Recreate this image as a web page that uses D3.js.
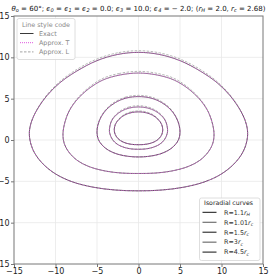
<!DOCTYPE html>
<html>
<head>
<meta charset="utf-8">
<script src="https://cdn.jsdelivr.net/npm/d3@7"></script>
<style>
  body { margin: 0; background: #fff; }
  svg { display: block; font-family: "DejaVu Sans", sans-serif; }
</style>
</head>
<body>
<div id="chart"></div>
<script>
// axis ticks
var xTicks = [-15, -10, -5, 0, 5, 10, 15];
var yTicks = [-15, -10, -5, 0, 5, 10, 15];

// isoradial curves, points (closed, counter-clockwise from top)
var curveNames = ["R=1.1r_H", "R=1.01r_c", "R=1.5r_c", "R=3r_c", "R=4.5r_c"];

var xR11H = [0, -0.9, -1.7, -2.35, -2.78, -2.92, -2.82, -2.45, -1.85, -1.0, 0, 1.0, 1.85, 2.45, 2.82, 2.92, 2.78, 2.35, 1.7, 0.9];
var yR11H = [3.4, 3.3, 3.0, 2.5, 1.9, 1.25, 0.7, 0.15, -0.25, -0.5, -0.57, -0.5, -0.25, 0.15, 0.7, 1.25, 1.9, 2.5, 3.0, 3.3];
var yR11HL = [3.52, 3.41, 3.09, 2.56, 1.93, 1.25, 0.7, 0.15, -0.25, -0.5, -0.57, -0.5, -0.25, 0.15, 0.7, 1.25, 1.93, 2.56, 3.09, 3.41];

var xR101c = [0, -1.1, -2.0, -2.75, -3.25, -3.5, -3.45, -3.1, -2.5, -1.7, -0.85, 0, 0.85, 1.7, 2.5, 3.1, 3.45, 3.5, 3.25, 2.75, 2.0, 1.1];
var yR101c = [4.0, 3.87, 3.52, 2.97, 2.3, 1.3, 0.75, 0.0, -0.55, -0.9, -1.08, -1.12, -1.08, -0.9, -0.55, 0.0, 0.75, 1.3, 2.3, 2.97, 3.52, 3.87];
var yR101cL = [4.15, 4.01, 3.64, 3.05, 2.35, 1.3, 0.75, 0.0, -0.55, -0.9, -1.08, -1.12, -1.08, -0.9, -0.55, 0.0, 0.75, 1.3, 2.35, 3.05, 3.64, 4.01];

var xR15c = [0, -1.5, -2.8, -3.8, -4.5, -4.9, -5.0, -4.85, -4.4, -3.6, -2.5, -1.2, 0, 1.2, 2.5, 3.6, 4.4, 4.85, 5.0, 4.9, 4.5, 3.8, 2.8, 1.5];
var yR15c = [5.25, 5.07, 4.52, 3.75, 2.8, 1.78, 0.9, 0.1, -0.6, -1.25, -1.72, -1.98, -2.05, -1.98, -1.72, -1.25, -0.6, 0.1, 0.9, 1.78, 2.8, 3.75, 4.52, 5.07];
var yR15cL = [5.4, 5.21, 4.64, 3.85, 2.86, 1.8, 0.9, 0.1, -0.6, -1.25, -1.72, -1.98, -2.05, -1.98, -1.72, -1.25, -0.6, 0.1, 0.9, 1.8, 2.86, 3.85, 4.64, 5.21];

var xR3c = [0, -2.3, -4.3, -6.0, -7.3, -8.3, -8.85, -9.1, -8.95, -8.4, -7.4, -6, -4, -2, 0, 2, 4, 6, 7.4, 8.4, 8.95, 9.1, 8.85, 8.3, 7.3, 6.0, 4.3, 2.3];
var yR3c = [8.1, 7.85, 7.25, 6.2, 5.0, 3.6, 2.2, 0.75, -0.4, -1.45, -2.45, -3.2, -3.75, -4.0, -4.05, -4.0, -3.75, -3.2, -2.45, -1.45, -0.4, 0.75, 2.2, 3.6, 5.0, 6.2, 7.25, 7.85];
var yR3cL = [8.3, 8.05, 7.45, 6.35, 5.1, 3.65, 2.22, 0.75, -0.4, -1.45, -2.45, -3.2, -3.75, -4.0, -4.05, -4.0, -3.75, -3.2, -2.45, -1.45, -0.4, 0.75, 2.22, 3.65, 5.1, 6.35, 7.45, 8.05];

var xR45c = [0, -2.5, -5, -7.5, -9.5, -11, -12.2, -12.9, -13.15, -13.0, -12.5, -11.5, -10, -8, -5.5, -2.8, 0, 2.8, 5.5, 8, 10, 11.5, 12.5, 13.0, 13.15, 12.9, 12.2, 11, 9.5, 7.5, 5, 2.5];
var yR45c = [10.6, 10.35, 9.6, 8.3, 6.9, 5.4, 3.7, 2.2, 0.9, -0.35, -1.6, -2.9, -4.1, -5.05, -5.7, -6.05, -6.15, -6.05, -5.7, -5.05, -4.1, -2.9, -1.6, -0.35, 0.9, 2.2, 3.7, 5.4, 6.9, 8.3, 9.6, 10.35];
var yR45cL = [10.8, 10.55, 9.8, 8.5, 7.05, 5.5, 3.75, 2.22, 0.9, -0.35, -1.6, -2.9, -4.1, -5.05, -5.7, -6.05, -6.15, -6.05, -5.7, -5.05, -4.1, -2.9, -1.6, -0.35, 0.9, 2.22, 3.75, 5.5, 7.05, 8.5, 9.8, 10.55];

var curveXs = [xR11H, xR101c, xR15c, xR3c, xR45c];
var curveYs = [yR11H, yR101c, yR15c, yR3c, yR45c];
var curveYsL = [yR11HL, yR101cL, yR15cL, yR3cL, yR45cL];

//plot box in pixels (note: "top" is taken by window.top)
var width = 279,
	height = 277,
	padL = 14, padR = 263,
	padT = 16, padB = 264;

var svg = d3.select("#chart").append("svg")
	.attr("width", width)
	.attr("height", height);

var x = d3.scaleLinear().domain([-15, 15]).range([padL, padR]);
var y = d3.scaleLinear().domain([-15, 15]).range([padB, padT]);

//grid
svg.append("g").selectAll("line")
	.data(xTicks.slice(1, -1)).enter()
	.append("line")
	.attr("x1", function(d){ return x(d); })
	.attr("x2", function(d){ return x(d); })
	.attr("y1", padT).attr("y2", padB)
	.attr("stroke", "#e8e8e8").attr("stroke-width", 0.8);
svg.append("g").selectAll("line")
	.data(yTicks.slice(1, -1)).enter()
	.append("line")
	.attr("y1", function(d){ return y(d); })
	.attr("y2", function(d){ return y(d); })
	.attr("x1", padL).attr("x2", padR)
	.attr("stroke", "#e8e8e8").attr("stroke-width", 0.8);

//axes
var fmt = function(d){ return d < 0 ? "\u2212" + Math.abs(d) : d; };
var xAxis = svg.append("g")
	.attr("transform", "translate(0," + padB + ")")
	.call(d3.axisBottom(x).tickValues(xTicks).tickFormat(fmt).tickSize(3).tickPadding(1.5));
var yAxis = svg.append("g")
	.attr("transform", "translate(" + padL + ",0)")
	.call(d3.axisLeft(y).tickValues(yTicks).tickFormat(fmt).tickSize(3).tickPadding(1.5));
[xAxis, yAxis].forEach(function(a){
	a.select(".domain").remove();
	a.selectAll(".tick line").attr("stroke", "#555").attr("stroke-width", 0.8);
	a.selectAll(".tick text").attr("font-size", 8).attr("fill", "#222")
		.attr("font-family", "DejaVu Sans");
});

svg.append("rect")
	.attr("x", padL).attr("y", padT)
	.attr("width", padR - padL).attr("height", padB - padT)
	.attr("fill", "none").attr("stroke", "#777").attr("stroke-width", 1);

//curves
var line = d3.line()
	.x(function(d){ return x(d[0]); })
	.y(function(d){ return y(d[1]); })
	.curve(d3.curveCatmullRomClosed.alpha(0.5));

var curves = svg.append("g");
curveXs.forEach(function(xs, i){
	var ptsL = xs.map(function(v, j){ return [v, curveYsL[i][j]]; });
	var pts = xs.map(function(v, j){ return [v, curveYs[i][j]]; });
	curves.append("path").attr("d", line(ptsL))
		.attr("fill", "none").attr("stroke", "#a0a0a0")
		.attr("stroke-width", 0.75).attr("stroke-dasharray", "2.5,1.5");
	curves.append("path").attr("d", line(pts))
		.attr("fill", "none").attr("stroke", i % 2 ? "#555" : "#333")
		.attr("stroke-width", 0.7);
	curves.append("path").attr("d", line(pts))
		.attr("fill", "none").attr("stroke", "#dd44dd")
		.attr("stroke-width", 0.75).attr("stroke-dasharray", "1,1.2");
});

//title
var title = svg.append("text")
	.attr("x", 138.5).attr("y", 10.5)
	.attr("text-anchor", "middle")
	.attr("font-size", 7.0)
	.attr("textLength", 254)
	.attr("lengthAdjust", "spacingAndGlyphs")
	.attr("fill", "#111");
var parts = [["\u03b8", "i"], ["o", "s"], [" = 60\u00b0; ", ""],
	["\u03f5", "i"], ["0", "s"], [" = ", ""], ["\u03f5", "i"], ["1", "s"], [" = ", ""],
	["\u03f5", "i"], ["2", "s"], [" = 0.0; ", ""], ["\u03f5", "i"], ["3", "s"],
	[" = 10.0; ", ""], ["\u03f5", "i"], ["4", "s"], [" = \u2212 2.0; (", ""],
	["r", "i"], ["H", "s"], [" = 2.0, ", ""], ["r", "i"], ["c", "s"], [" = 2.68)", ""]];
parts.forEach(function(p, i){
	var t = title.append("tspan").text(p[0]);
	var prev = i > 0 ? parts[i - 1][1] : "";
	if (p[1] == "i") t.attr("font-style", "italic");
	if (p[1] == "s") t.attr("font-size", 5.0).attr("font-style", "italic").attr("dy", 1.6);
	else if (prev == "s") t.attr("dy", -1.6);
});

//legend: line style code
var lg1 = svg.append("g").attr("transform", "translate(17,18.5)");
lg1.append("rect").attr("width", 58).attr("height", 41).attr("rx", 2)
	.attr("fill", "#fff").attr("fill-opacity", 0.85)
	.attr("stroke", "#d5d5d5").attr("stroke-width", 0.8);
lg1.append("text").attr("x", 29).attr("y", 8).attr("text-anchor", "middle")
	.attr("font-size", 6.4).attr("fill", "#888").text("Line style code");
var styleNames = ["Exact", "Approx. T", "Approx. L"];
var styleColors = ["#222", "#dd44dd", "#999"];
var styleDash = [null, "1,1", "2.5,1.5"];
styleNames.forEach(function(s, i){
	var yy = 15 + i * 9.2;
	lg1.append("line").attr("x1", 3).attr("x2", 16.5).attr("y1", yy).attr("y2", yy)
		.attr("stroke", styleColors[i]).attr("stroke-width", 0.9)
		.attr("stroke-dasharray", styleDash[i]);
	lg1.append("text").attr("x", 22).attr("y", yy + 2.3)
		.attr("font-size", 6.4).attr("fill", "#888").text(s);
});

//legend: isoradial curves
var lg2 = svg.append("g").attr("transform", "translate(199.5,198)");
lg2.append("rect").attr("width", 60.5).attr("height", 62.5).attr("rx", 2)
	.attr("fill", "#fff").attr("fill-opacity", 0.85)
	.attr("stroke", "#d5d5d5").attr("stroke-width", 0.8);
lg2.append("text").attr("x", 29).attr("y", 7).attr("text-anchor", "middle")
	.attr("font-size", 6.2).attr("fill", "#222").text("Isoradial curves");
curveNames.forEach(function(s, i){
	var yy = 14.3 + i * 9.95;
	lg2.append("line").attr("x1", 3).attr("x2", 17).attr("y1", yy).attr("y2", yy)
		.attr("stroke", i % 2 ? "#555" : "#111").attr("stroke-width", 1);
	var t = lg2.append("text").attr("x", 24.5).attr("y", yy + 2.3)
		.attr("font-size", 6.4).attr("fill", "#333");
	var sp = s.split("r_");
	t.append("tspan").text(sp[0]);
	t.append("tspan").attr("font-style", "italic").text("r");
	t.append("tspan").attr("font-style", "italic").attr("font-size", 4.6).attr("dy", 1.5).text(sp[1]);
});
</script>
</body>
</html>
